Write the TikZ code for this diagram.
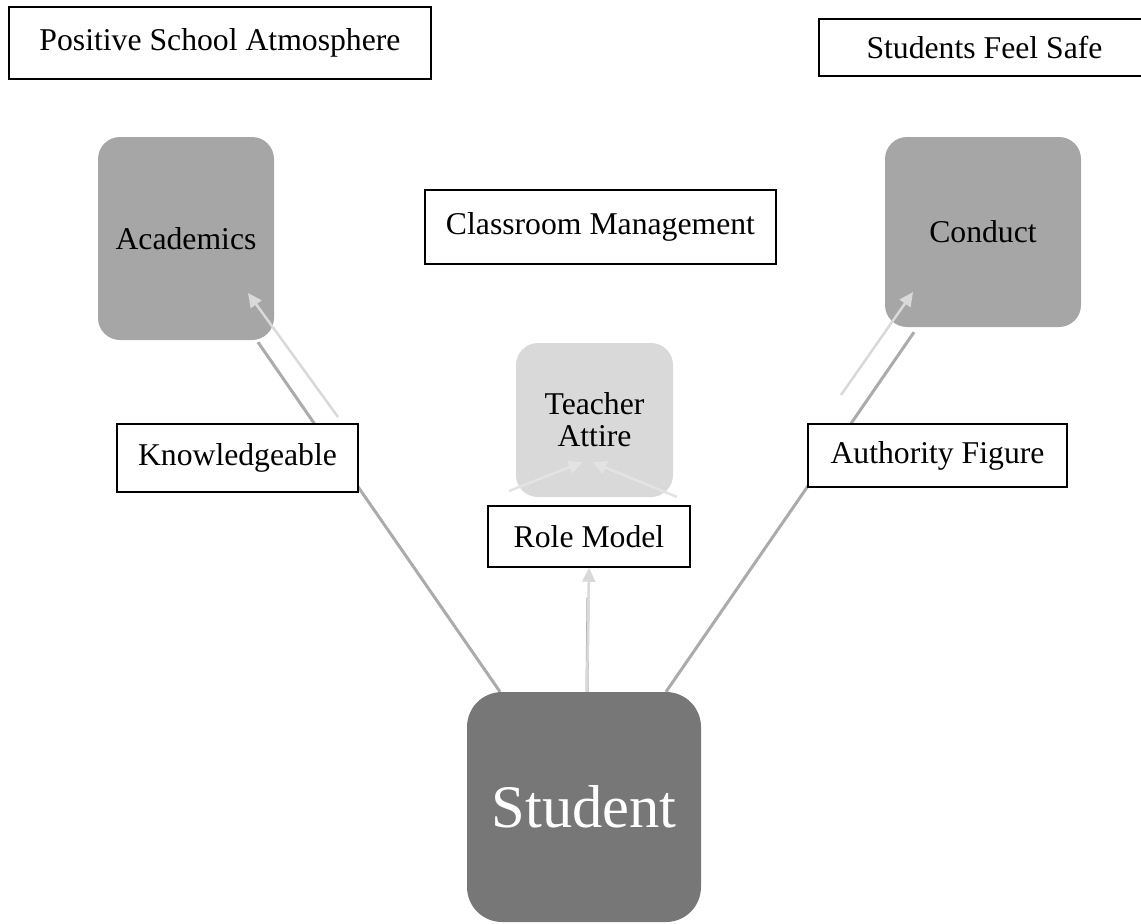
\documentclass[tikz,border=0pt]{standalone}
\usepackage{fontspec}
\setmainfont{Liberation Serif}
\usetikzlibrary{arrows.meta,backgrounds}
\definecolor{boxgray}{HTML}{A6A6A6}
\definecolor{palegray}{HTML}{D9D9D9}
\definecolor{darkfill}{HTML}{777777}
\definecolor{linkgray}{HTML}{ABABAB}
\definecolor{faintgray}{HTML}{E3E3E3}
\tikzset{
    labelbox/.style={draw=black,line width=1.5pt,fill=white,inner sep=0pt,font=\fontsize{31.7}{32}\selectfont},
    areabox/.style={fill=boxgray,rounded corners=22pt,inner sep=0pt,font=\fontsize{31.7}{32}\selectfont},
    link/.style={draw=linkgray,line width=3pt},
    hint/.style={draw=palegray,line width=2.5pt,-{Triangle[length=14pt,width=13pt]}},
}
\begin{document}
\begin{tikzpicture}[x=1pt,y=-1pt]
    \useasboundingbox (0,0) rectangle (1141,924);
    %areas
    \node[areabox,minimum width=176pt,minimum height=203pt] (acad) at (186,238.5) {Academics};
    \node[areabox,minimum width=196pt,minimum height=190pt] (cond) at (983,232) {Conduct};
    \node[areabox,fill=palegray,minimum width=157pt,minimum height=154pt,align=center] (attire) at (594.5,420) {Teacher\\Attire};
    \node[areabox,fill=darkfill,rounded corners=35pt,minimum width=234pt,minimum height=230pt,text=white,font=\fontsize{60.5}{66}\selectfont] (student) at (584,807) {Student};
    %labels
    \node[labelbox,minimum width=422pt,minimum height=72pt] (psa) at (220,43) {Positive School Atmosphere};
    \node[labelbox,minimum width=331pt,minimum height=57pt] (safe) at (984.5,47.5) {Students Feel Safe};
    \node[labelbox,minimum width=351pt,minimum height=74pt] (cm) at (600.5,227) {Classroom Management};
    \node[labelbox,minimum width=241pt,minimum height=68pt] (know) at (237.5,458) {Knowledgeable};
    \node[labelbox,minimum width=202pt,minimum height=61pt] (role) at (589,536.5) {Role Model};
    \node[labelbox,minimum width=259pt,minimum height=63pt] (auth) at (937.5,455.5) {Authority Figure};
    %links
    \begin{scope}[on background layer]
        \draw[link] ([xshift=-84pt]student.north) -- ([xshift=72pt,yshift=-2pt]acad.south);
        \draw[link] ([xshift=82pt]student.north) -- ([xshift=-69pt,yshift=-5pt]cond.south);
        \draw[link] ([xshift=3pt]student.north) -- ([xshift=-1pt,yshift=-30pt]role.south);
    \end{scope}
    %arrows
    \coordinate (k1) at (338,417);
    \coordinate (k2) at (248,293);
    \coordinate (a1) at (841,395);
    \coordinate (a2) at (913,292);
    \coordinate (t1) at (509,491);
    \coordinate (t2) at (677,497);
    \draw[hint] (k1) -- (k2);
    \draw[hint] (a1) -- (a2);
    \draw[hint] ([xshift=3pt]student.north) -- (role.south);
    \draw[hint,draw=faintgray] (t1) -- ([xshift=-12pt,yshift=35pt]attire.south);
    \draw[hint,draw=faintgray] (t2) -- ([xshift=-2pt,yshift=35pt]attire.south);
\end{tikzpicture}
\end{document}
